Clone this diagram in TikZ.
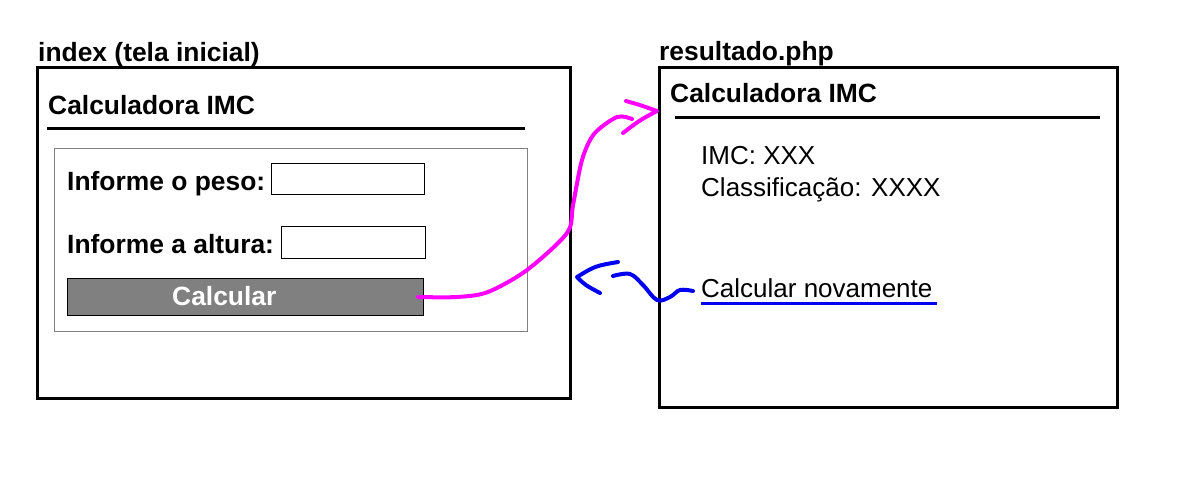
\documentclass[tikz,border=0pt]{standalone}
\usepackage{fontspec}
\setmainfont{Liberation Sans}
\begin{document}
\begin{tikzpicture}[x=1pt,y=-1pt,
  txt/.style={anchor=base west,inner sep=0pt,font=\fontsize{26}{30}\selectfont},
  btxt/.style={txt,font=\fontsize{26.4}{30}\selectfont\bfseries},
  frame/.style={draw=black,line width=3pt},
  rule/.style={line width=3pt},
  inbox/.style={draw=black,line width=1pt},
  pen/.style={line width=4pt,line cap=round,line join=round}]
\useasboundingbox (0,0) rectangle (1196,479);
\definecolor{pink}{RGB}{255,0,255}
\definecolor{pblue}{RGB}{0,0,240}
% left screen
\node[btxt] (t1) at (38,61) {index (tela inicial)};
\draw[frame] (37,67) rectangle (570,398);
\node[btxt] (h1) at (48,114) {Calculadora IMC};
\draw[rule] (47,128) -- (525,128);
\draw[draw=gray,line width=1pt] (54,148) rectangle (527,331);
\node[btxt] (l1) at (67,190) {Informe o peso:};
\draw[inbox] (271,163) rectangle (424,194);
\node[btxt] (l2) at (67,253) {Informe a altura:};
\draw[inbox] (281,226) rectangle (425,258);
\node[draw=black,line width=1pt,fill={rgb,255:red,128;green,128;blue,128},minimum width=356pt,minimum height=37pt,inner sep=0pt,anchor=north west] (btn) at (67,278) {};
\node[btxt,text=white] (btnlabel) at (172,305) {Calcular};
% right screen
\node[btxt] (t2) at (659,60) {resultado.php};
\draw[frame] (659,67) rectangle (1117,407);
\node[btxt] (h2) at (670,102) {Calculadora IMC};
\draw[rule] (675,117) -- (1100,117);
\node[txt] (imc) at (701,164) {IMC: XXX};
\node[txt] (cls) at (701,196) {Classificação: XXXX};
\node[txt] (again) at (701,297) {Calcular novamente};
\draw[pblue,line width=3pt] (701,303) -- (937,303);
% magenta connector
\coordinate (m0) at (418,297);
\coordinate (m1) at (457,297);
\coordinate (m2) at (488,292);
\coordinate (m3) at (527,270);
\coordinate (m4) at (567,233);
\coordinate (m5) at (573,205);
\coordinate (m6) at (582,160);
\coordinate (m7) at (594,134);
\coordinate (m8) at (617,117);
\coordinate (m9) at (632,119);
\draw[pink,pen] plot[smooth,tension=0.5] coordinates {(m0) (m1) (m2) (m3) (m4) (m5) (m6) (m7) (m8) (m9)};
\coordinate (ma) at (626,101);
\coordinate (mb) at (657,111);
\coordinate (mc) at (623,133);
\draw[pink,pen] (ma) .. controls (640,105) .. (mb) .. controls (640,120) .. (mc);
% blue connector
\coordinate (b0) at (693,291);
\coordinate (b1) at (680,290);
\coordinate (b2) at (670,297);
\coordinate (b3) at (657,300);
\coordinate (b4) at (643,285);
\coordinate (b5) at (630,274);
\coordinate (b6) at (613,276);
\draw[pblue,pen] plot[smooth,tension=0.6] coordinates {(b0) (b1) (b2) (b3) (b4) (b5) (b6)};
\coordinate (ba) at (618,262);
\coordinate (bb) at (577,277);
\coordinate (bc) at (600,293);
\draw[pblue,pen] (ba) .. controls (595,266) .. (bb) .. controls (585,285) .. (bc);
\end{tikzpicture}
\end{document}
